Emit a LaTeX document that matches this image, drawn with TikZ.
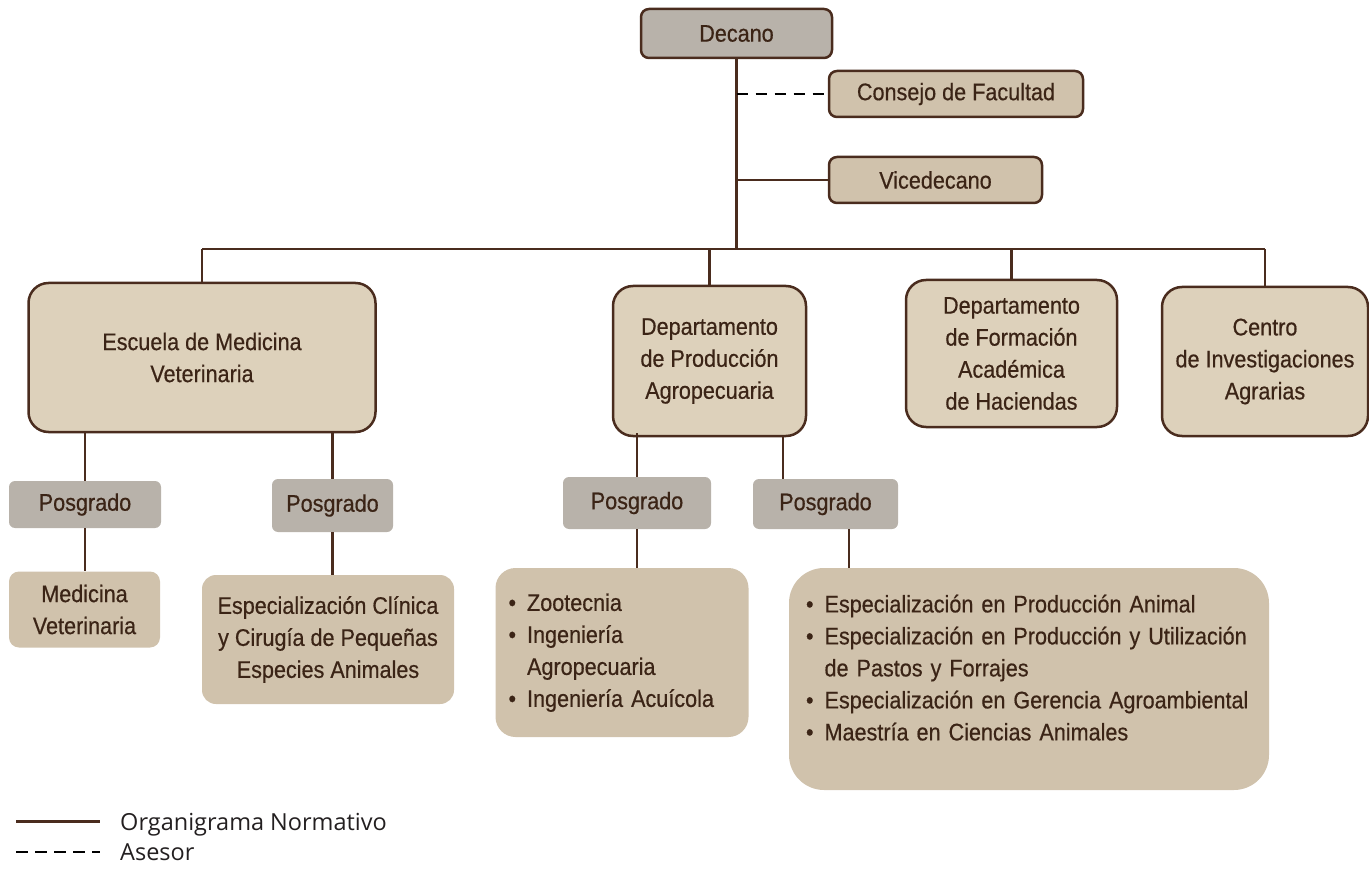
\documentclass[tikz,border=0pt]{standalone}
\usepackage{fontspec}
\setmainfont{Liberation Sans}[FakeStretch=0.9,FakeBold=0.5]
\newfontfamily\legendfont{Open Sans}
\usepackage{xcolor}
\usepackage{tikz}

\definecolor{cafe}{HTML}{4A2C1E}
\definecolor{texto}{HTML}{3B2416}
\definecolor{gris}{HTML}{B8B2AA}
\definecolor{arena}{HTML}{DDD1BB}
\definecolor{beige}{HTML}{D0C2AC}
\definecolor{tinta}{HTML}{231F20}

\begin{document}
\begin{tikzpicture}[x=1pt,y=-1pt]
        \tikzstyle{every node} = [inner sep=0pt, text=texto, align=center, font=\fontsize{24}{32}\selectfont]
        \tikzstyle{linea} = [draw=cafe, line width=2.5pt]
        \tikzstyle{asesor} = [draw=black, line width=2.5pt, dash pattern=on 11.5pt off 7.5pt]
        \tikzstyle{jefe} = [draw=cafe, line width=2.5pt, fill=gris, rounded corners=8pt]
        \tikzstyle{staff} = [draw=cafe, line width=2.5pt, fill=beige, rounded corners=8pt]
        \tikzstyle{unidad} = [draw=cafe, line width=2.5pt, fill=arena, rounded corners=20pt]
        \tikzstyle{posgrado} = [fill=gris, rounded corners=6pt]
        \tikzstyle{programa} = [fill=beige, rounded corners=12pt]
        \tikzstyle{lista} = [fill=beige, align=left, inner ysep=0pt]
        \tikzstyle{leyenda} = [anchor=base west, text=tinta, font=\legendfont\fontsize{23.5}{28}\selectfont]
        \useasboundingbox (0,0) rectangle (1369,869);

        % nivel directivo
        \node[jefe, minimum width=191pt, minimum height=49pt] (decano) at (736.5,33.5) {Decano};
        \node[staff, minimum width=254pt, minimum height=46pt] (consejo) at (956,94) {Consejo de Facultad};
        \node[staff, minimum width=213pt, minimum height=46pt] (vice) at (935.5,180) {Vicedecano};
        \coordinate (bus) at (0,249);

        % unidades
        \node[unidad, minimum width=347pt, minimum height=149pt] (escuela) at (202,357.5) {Escuela de Medicina\\Veterinaria};
        \node[unidad, minimum width=193pt, minimum height=150pt] (prod) at (709.5,361) {Departamento\\de Producción\\Agropecuaria};
        \node[unidad, minimum width=211pt, minimum height=147pt] (form) at (1011.5,353.5) {Departamento\\de Formación\\Académica\\de Haciendas};
        \node[unidad, minimum width=206pt, minimum height=149pt] (centro) at (1265,361.5) {Centro\\de Investigaciones\\Agrarias};

        % posgrados
        \node[posgrado, minimum width=152pt, minimum height=47pt] (pos1) at (85,504.5) {Posgrado};
        \node[posgrado, minimum width=121pt, minimum height=53pt] (pos2) at (332.5,505.5) {Posgrado};
        \node[posgrado, minimum width=148pt, minimum height=52pt] (pos3) at (637,503) {Posgrado};
        \node[posgrado, minimum width=145pt, minimum height=50pt] (pos4) at (825.5,504) {Posgrado};

        % programas
        \node[programa, minimum width=151pt, minimum height=76pt, rounded corners=10pt] (medvet) at (84.5,609.5) {Medicina\\Veterinaria};
        \node[programa, minimum width=252pt, minimum height=129pt, rounded corners=14pt] (clinica) at (328,639.5) {Especialización Clínica\\y Cirugía de Pequeñas\\Especies Animales};
        \node[lista, inner xsep=13pt, text width=227pt, minimum height=169pt, rounded corners=20pt] (lista1) at (622,652.5)
            {\begin{tabular}{@{}c@{\hspace{11pt}}l@{}}
             • & Zootecnia\\
             • & Ingeniería\\
               & Agropecuaria\\
             • & Ingeniería Acuícola
             \end{tabular}};
        \node[lista, inner xsep=17pt, text width=446pt, minimum height=222pt, rounded corners=35pt] (lista2) at (1029,679)
            {\begin{tabular}{@{}c@{\hspace{11pt}}l@{}}
             • & Especialización en Producción Animal\\
             • & Especialización en Producción y Utilización\\
               & de Pastos y Forrajes\\
             • & Especialización en Gerencia Agroambiental\\
             • & Maestría en Ciencias Animales\\[18pt]
             \end{tabular}};

        % conectores
        \draw[linea] (decano.south) -- (decano.south |- bus);
        \draw[asesor] (consejo.west -| decano.south) -- (consejo.west);
        \draw[linea] (vice.west) -- (vice.west -| decano.south);
        \draw[linea] (escuela.north |- bus) -- (centro.north |- bus);
        \foreach \n in {escuela, prod, form, centro}
            \draw[linea] (\n.north) -- (\n.north |- bus);
        \foreach \p/\h in {pos1/medvet, pos2/clinica, pos3/lista1}
            \draw[linea] (\p.north) -- (\p.north |- escuela.south)
                         (\p.south) -- (\p.south |- \h.north);
        \draw[linea] ([xshift=-42.5pt]pos4.north) -- ([xshift=-42.5pt]pos4.north |- prod.south);
        \draw[linea] ([xshift=23.5pt]pos4.south) -- ([xshift=23.5pt]pos4.south |- lista2.north);

        % leyenda
        \node[leyenda] (normativo) at (120,830) {Organigrama Normativo};
        \node[leyenda] (asesoria) at (120,860) {Asesor};
        \draw[linea] ([shift={(-104pt,8.5pt)}]normativo.base west) -- ([shift={(-20pt,8.5pt)}]normativo.base west);
        \draw[asesor] ([shift={(-104pt,8pt)}]asesoria.base west) -- ([shift={(-20pt,8pt)}]asesoria.base west);
    \end{tikzpicture}
\end{document}
